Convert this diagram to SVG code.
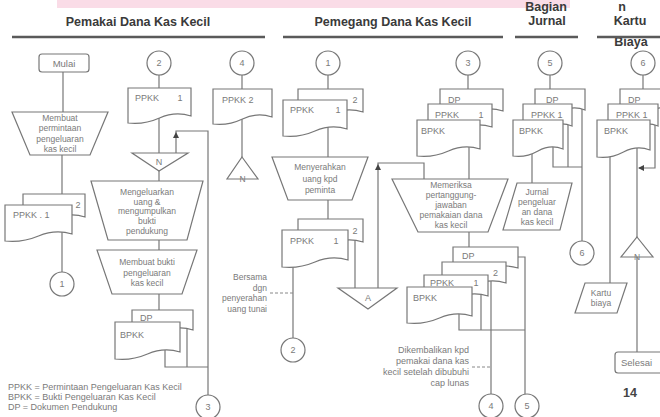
<svg xmlns="http://www.w3.org/2000/svg" width="660" height="417" viewBox="0 0 660 417">
<style>
.ln{fill:none;stroke:#777;stroke-width:1.2}
.sh{fill:#fff;stroke:#777;stroke-width:1.2}
.t{font-family:"Liberation Sans",Arial,sans-serif;font-size:8.5px;fill:#7a7a7a}
.d{font-size:9px}
.c{text-anchor:middle}
.e{text-anchor:end}
.hd{font-family:"Liberation Sans",Arial,sans-serif;font-size:12.5px;font-weight:bold;fill:#3a3a3a;text-anchor:middle}
.ul{stroke:#5a5a5a;stroke-width:2.6}
.dl{fill:none;stroke:#888;stroke-width:1;stroke-dasharray:3 2}
.ah{fill:#444}
</style>
<defs>
<path id="aup" d="M0,0 L-3,6 L3,6 Z"/>
<path id="alf" d="M0,0 L6,-3 L6,3 Z"/>
</defs>
<rect width="660" height="417" fill="#fff"/>
<rect x="57" y="0" width="513" height="8" fill="#fadce7"/>

<g id="headers">
<text class="hd" x="138" y="26">Pemakai Dana Kas Kecil</text>
<text class="hd" x="393" y="26">Pemegang Dana Kas Kecil</text>
<text class="hd" x="546" y="11">Bagian</text>
<text class="hd" x="547" y="25">Jurnal</text>
<text class="hd" x="622" y="11">n</text>
<text class="hd" x="630" y="25">Kartu</text>
<text class="hd" x="631" y="46">Biaya</text>
<line class="ul" x1="12" y1="37" x2="265" y2="37"/>
<line class="ul" x1="283" y1="37" x2="503" y2="37"/>
<line class="ul" x1="515" y1="37" x2="578" y2="37"/>
<line class="ul" x1="597" y1="37" x2="660" y2="37"/>
</g>

<g id="connectors">
<path class="ln" d="M63,72 V112"/>
<path class="ln" d="M62,155 V194"/>
<path class="ln" d="M62,232 V272"/>
<path class="ln" d="M159,75 V88"/>
<path class="ln" d="M159,118 V153"/>
<path class="ln" d="M159,171 V181"/>
<path class="ln" d="M159,240 V250"/>
<path class="ln" d="M159,294 V310"/>
<path class="ln" d="M165,350 V367 H208"/>
<path class="ln" d="M187,328 V367"/>
<path class="ln" d="M176,153 V131 H208 V395"/>
<path class="ln" d="M242,75 V89"/>
<path class="ln" d="M242,119 V157"/>
<path class="ln" d="M328,75 V89"/>
<path class="ln" d="M328,127 V157"/>
<path class="ln" d="M328,200 V219"/>
<path class="ln" d="M293,267 V338"/>
<path class="ln" d="M355,240 V288"/>
<path class="ln" d="M378,288 V163 H424 V179"/>
<path class="dl" d="M270,293 H293"/>
<path class="ln" d="M468,75 V89"/>
<path class="ln" d="M469,147 V179"/>
<path class="ln" d="M469,232 V247"/>
<path class="ln" d="M459,314 V330 H525"/>
<path class="ln" d="M481,294 V330"/>
<path class="ln" d="M491,281 V394"/>
<path class="ln" d="M518,257 H525 V394"/>
<path class="dl" d="M472,367 H491"/>
<path class="ln" d="M550,75 V89"/>
<path class="ln" d="M532,154 V183"/>
<path class="ln" d="M553,147 V167 H582"/>
<path class="ln" d="M568,125 V167"/>
<path class="ln" d="M582,109 V241"/>
<path class="ln" d="M643,75 V89"/>
<path class="ln" d="M610,157 V283"/>
<path class="ln" d="M637,148 V352"/>
<path class="ln" d="M655,125 V168 H639"/>
<use href="#aup" class="ah" x="176" y="132"/>
<use href="#aup" class="ah" x="378" y="164"/>
<use href="#alf" class="ah" x="638" y="168"/>
</g>

<g id="mulai">
<rect class="sh" x="39" y="54" width="50" height="18" rx="3"/>
<text class="t c" x="64" y="66.5" style="font-size:9.5px">Mulai</text>
</g>
<g id="buat-permintaan">
<polygon class="sh" points="12,112 108,112 90,155 30,155"/>
<text class="t c" x="60" y="121">Membuat</text>
<text class="t c" x="60" y="131">permintaan</text>
<text class="t c" x="60" y="141.5">pengeluaran</text>
<text class="t c" x="60" y="151.5">kas kecil</text>
</g>
<g id="doc-ppkk-a">
<path class="sh" d="M23,194 H85 V217 Q69.5,212 54,219 Q38.5,226 23,224 Z"/>
<text class="t d c" x="78" y="208">2</text>
<path class="sh" d="M5,205 H72 V234 Q55.25,229 38.5,236 Q21.75,243 5,241 Z"/>
<text class="t d" x="13" y="218">PPKK . 1</text>
</g>
<g id="conn1-a"><circle class="sh" cx="62" cy="284" r="12"/><text class="t d c" x="62" y="287">1</text></g>

<g id="conn2-a"><circle class="sh" cx="159" cy="63" r="12"/><text class="t d c" x="159" y="66">2</text></g>
<g id="doc-ppkk1-b">
<path class="sh" d="M128,88 H191 V116 Q175.25,111 159.5,118 Q143.75,125 128,123 Z"/>
<text class="t d" x="135" y="101">PPKK <tspan dx="16">1</tspan></text>
</g>
<g id="merge-n">
<polygon class="sh" points="132,153 188,153 159,171"/>
<text class="t d c" x="159" y="165">N</text>
</g>
<g id="mengeluarkan">
<polygon class="sh" points="91,181 203,181 187,240 108,240"/>
<text class="t c" x="147" y="195">Mengeluarkan</text>
<text class="t c" x="147" y="204.5">uang &amp;</text>
<text class="t c" x="147" y="214">mengumpulkan</text>
<text class="t c" x="147" y="223.5">bukti</text>
<text class="t c" x="147" y="234">pendukung</text>
</g>
<g id="buat-bukti">
<polygon class="sh" points="97,250 197,250 182,294 112,294"/>
<text class="t c" x="147" y="265">Membuat bukti</text>
<text class="t c" x="147" y="276">pengeluaran</text>
<text class="t c" x="147" y="286">kas kecil</text>
</g>
<g id="doc-dp-bpkk-a">
<path class="sh" d="M132,310 H193 V330 Q177.75,325 162.5,332 Q147.25,339 132,337 Z"/>
<text class="t d" x="140" y="321">DP</text>
<path class="sh" d="M115,322 H180 V352 Q163.75,347 147.5,354 Q131.25,361 115,359 Z"/>
<text class="t d" x="120" y="338">BPKK</text>
</g>
<g id="conn3-a"><circle class="sh" cx="208" cy="407" r="12"/><text class="t d c" x="208" y="410">3</text></g>

<g id="conn4-a"><circle class="sh" cx="242" cy="63" r="12"/><text class="t d c" x="242" y="66">4</text></g>
<g id="doc-ppkk2">
<path class="sh" d="M213,89 H272 V117 Q257.25,112 242.5,119 Q227.75,126 213,124 Z"/>
<text class="t d" x="222" y="103">PPKK 2</text>
</g>
<g id="file-n-a">
<polygon class="sh" points="242,157 258,179 227,179"/>
<text class="t c" x="242.5" y="182">N</text>
</g>

<g id="conn1-b"><circle class="sh" cx="328" cy="63" r="12"/><text class="t d c" x="328" y="66">1</text></g>
<g id="doc-ppkk-b1">
<path class="sh" d="M298,89 H363 V112 Q346.75,107 330.5,114 Q314.25,121 298,119 Z"/>
<text class="t d c" x="355" y="103">2</text>
<path class="sh" d="M283,100 H347 V129 Q331,124 315,131 Q299,138 283,136 Z"/>
<text class="t d" x="290" y="113">PPKK <tspan dx="19">1</tspan></text>
</g>
<g id="menyerahkan">
<polygon class="sh" points="272,157 368,157 352,200 288,200"/>
<text class="t c" x="320" y="170">Menyerahkan</text>
<text class="t c" x="320" y="182">uang kpd</text>
<text class="t c" x="320" y="193">peminta</text>
</g>
<g id="doc-ppkk-b2">
<path class="sh" d="M298,219 H363 V242 Q346.75,237 330.5,244 Q314.25,251 298,249 Z"/>
<text class="t d c" x="355" y="234">2</text>
<path class="sh" d="M282,230 H348 V260 Q331.5,255 315,262 Q298.5,269 282,267 Z"/>
<text class="t d" x="290" y="244">PPKK <tspan dx="17">1</tspan></text>
</g>
<g id="note-bersama">
<text class="t e" x="267" y="280">Bersama</text>
<text class="t e" x="267" y="290.5">dgn</text>
<text class="t e" x="267" y="301">penyerahan</text>
<text class="t e" x="267" y="311.5">uang tunai</text>
</g>
<g id="conn2-b"><circle class="sh" cx="293" cy="350" r="12"/><text class="t d c" x="293" y="353">2</text></g>
<g id="file-a">
<polygon class="sh" points="338,288 397,288 368,309"/>
<text class="t d c" x="368" y="301">A</text>
</g>

<g id="conn3-b"><circle class="sh" cx="468" cy="63" r="12"/><text class="t d c" x="468" y="66">3</text></g>
<g id="docs-b-top">
<path class="sh" d="M440,89 H503 V111 Q487.25,106 471.5,113 Q455.75,120 440,118 Z"/>
<text class="t d" x="448" y="103">DP</text>
<path class="sh" d="M428,104 H492 V127 Q476,122 460,129 Q444,136 428,134 Z"/>
<text class="t d" x="435" y="118">PPKK <tspan dx="17">1</tspan></text>
<path class="sh" d="M417,120 H480 V149 Q464.25,144 448.5,151 Q432.75,158 417,156 Z"/>
<text class="t d" x="421" y="134">BPKK</text>
</g>
<g id="memeriksa">
<polygon class="sh" points="392,179 508,179 488,232 418,232"/>
<text class="t c" x="451" y="188">Memeriksa</text>
<text class="t c" x="451" y="198">pertanggung-</text>
<text class="t c" x="451" y="208">jawaban</text>
<text class="t c" x="451" y="218">pemakaian dana</text>
<text class="t c" x="451" y="228">kas kecil</text>
</g>
<g id="docs-b-bottom">
<path class="sh" d="M453,247 H518 V268 Q501.75,263 485.5,270 Q469.25,277 453,275 Z"/>
<text class="t d" x="462" y="259">DP</text>
<path class="sh" d="M442,262 H506 V283 Q490,278 474,285 Q458,292 442,290 Z"/>
<text class="t d" x="493" y="276">2</text>
<path class="sh" d="M424,275 H488 V296 Q472,291 456,298 Q440,305 424,303 Z"/>
<text class="t d" x="430" y="286">PPKK <tspan dx="17">1</tspan></text>
<path class="sh" d="M407,287 H472 V316 Q455.75,311 439.5,318 Q423.25,325 407,323 Z"/>
<text class="t d" x="413" y="301">BPKK</text>
</g>
<g id="note-dikembalikan">
<text class="t d e" x="469" y="353">Dikembalikan kpd</text>
<text class="t d e" x="469" y="364">pemakai dana kas</text>
<text class="t d e" x="469" y="375">kecil setelah dibubuhi</text>
<text class="t d e" x="469" y="386">cap lunas</text>
</g>
<g id="conn4-b"><circle class="sh" cx="491" cy="406" r="12"/><text class="t d c" x="491" y="409">4</text></g>
<g id="conn5-b"><circle class="sh" cx="527" cy="406" r="12"/><text class="t d c" x="527" y="409">5</text></g>

<g id="conn5-c"><circle class="sh" cx="550" cy="63" r="12"/><text class="t d c" x="550" y="66">5</text></g>
<g id="docs-c">
<path class="sh" d="M535,89 H585 V110 Q572.5,105 560,112 Q547.5,119 535,117 Z"/>
<text class="t d" x="546" y="103">DP</text>
<path class="sh" d="M523,104 H572 V126 Q559.75,121 547.5,128 Q535.25,135 523,133 Z"/>
<text class="t d" x="531" y="118">PPKK 1</text>
<path class="sh" d="M513,120 H563 V149 Q550.5,144 538,151 Q525.5,158 513,156 Z"/>
<text class="t d" x="519" y="134">BPKK</text>
</g>
<g id="jurnal">
<polygon class="sh" points="517,183 572,183 560,230 503,230"/>
<text class="t c" x="537" y="195">Jurnal</text>
<text class="t c" x="537" y="205">pengeluar</text>
<text class="t c" x="537" y="215">an dana</text>
<text class="t c" x="537" y="225">kas kecil</text>
</g>
<g id="conn6-c"><circle class="sh" cx="582" cy="253" r="12"/><text class="t d c" x="582" y="256">6</text></g>

<g id="conn6-d"><circle class="sh" cx="643" cy="63" r="12"/><text class="t d c" x="643" y="66">6</text></g>
<g id="docs-d">
<path class="sh" d="M620,89 H672 V110 Q659,105 646,112 Q633,119 620,117 Z"/>
<text class="t d" x="628" y="103">DP</text>
<path class="sh" d="M608,104 H658 V126 Q645.5,121 633,128 Q620.5,135 608,133 Z"/>
<text class="t d" x="616" y="118">PPKK 1</text>
<path class="sh" d="M597,120 H650 V150 Q636.75,145 623.5,152 Q610.25,159 597,157 Z"/>
<text class="t d" x="604" y="134">BPKK</text>
</g>
<g id="file-n-d">
<polygon class="sh" points="637,237 653,257 621,257"/>
<text class="t c" x="637" y="260">N</text>
</g>
<g id="kartu-biaya">
<polygon class="sh" points="585,283 627,283 617,313 575,313"/>
<text class="t c" x="601" y="296">Kartu</text>
<text class="t c" x="601" y="306">biaya</text>
</g>
<g id="selesai">
<rect class="sh" x="615" y="352" width="60" height="21" rx="3"/>
<text class="t" x="621" y="366" style="font-size:9.5px">Selesai</text>
</g>

<g id="legend">
<text class="t d" x="8" y="390">PPKK = Permintaan Pengeluaran Kas Kecil</text>
<text class="t d" x="8" y="400">BPKK = Bukti Pengeluaran Kas Kecil</text>
<text class="t d" x="8" y="409.5">DP = Dokumen Pendukung</text>
</g>
<text x="623" y="397" style="font-family:'Liberation Sans',Arial,sans-serif;font-size:12.5px;font-weight:bold;fill:#444">14</text>
</svg>
